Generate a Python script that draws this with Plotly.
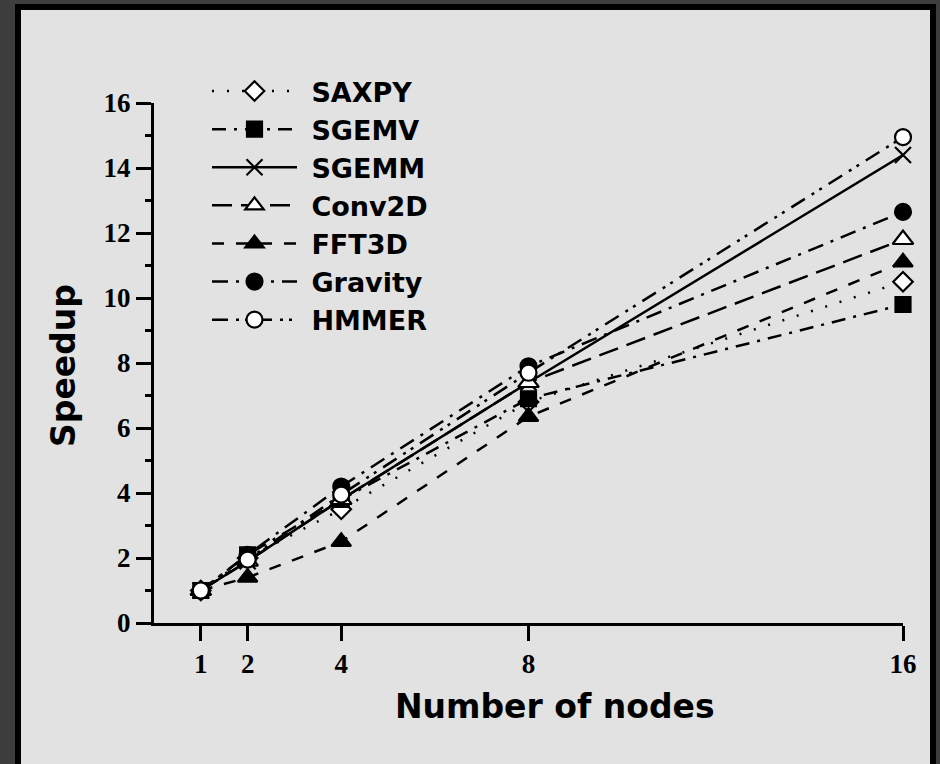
import plotly.graph_objects as go

nodes = [1, 2, 4, 8, 16]
names = ["SAXPY", "SGEMV", "SGEMM", "Conv2D", "FFT3D", "Gravity", "HMMER"]
saxpy = [1.0, 2.0, 3.5, 6.8, 10.5]
sgemv = [1.0, 2.1, 3.8, 6.9, 9.8]
sgemm = [1.0, 1.9, 3.8, 7.4, 14.4]
conv2d = [1.0, 1.9, 3.8, 7.4, 11.8]
fft3d = [1.0, 1.4, 2.5, 6.35, 11.1]
gravity = [1.0, 2.1, 4.2, 7.9, 12.65]
hmmer = [1.0, 1.95, 3.95, 7.7, 14.95]
series = [saxpy, sgemv, sgemm, conv2d, fft3d, gravity, hmmer]

x_ticks = [1, 2, 4, 8, 16]
y_ticks = [0, 2, 4, 6, 8, 10, 12, 14, 16]

styles = [
    dict(dash="2px,13px", symbol="diamond-open", size=15),
    dict(dash="14px,8px,3px,8px", symbol="square", size=15),
    dict(dash="solid", symbol="x-thin-open", size=16),
    dict(dash="20px,9px", symbol="triangle-up-open", size=18),
    dict(dash="12px,12px", symbol="triangle-up", size=17),
    dict(dash="16px,8px,3px,8px", symbol="circle", size=16),
    dict(dash="16px,8px,3px,6px,3px,8px", symbol="circle-open", size=16),
]

fig = go.Figure()
for name, vals, st in zip(names, series, styles):
    open_sym = st["symbol"].endswith("open") and not st["symbol"].startswith("x")
    fig.add_trace(go.Scatter(
        x=nodes, y=vals, name="<b> " + name + "</b>", mode="lines+markers",
        line=dict(color="black", width=2.5, dash=st["dash"]),
        marker=dict(
            symbol=st["symbol"].replace("-open", "") if open_sym else st["symbol"],
            size=st["size"],
            color="white" if open_sym else "black",
            line=dict(color="black", width=2.2),
        ),
        cliponaxis=False,
    ))

W, H = 940, 764
ml, mr, mt, mb = 154, 37, 103, 141
pw, ph = W - ml - mr, H - mt - mb

def px(x):
    return (x - ml) / pw

def py(y):
    return 1 - (y - mt) / ph

fig.add_shape(type="rect", xref="paper", yref="paper",
              x0=px(18), x1=px(933), y0=py(7), y1=py(H + 20),
              line=dict(color="black", width=6), fillcolor="#e2e2e2", layer="below")

tickfont = dict(family="Liberation Serif", size=27, color="black", weight="bold")
fig.update_xaxes(range=[0, 16], tickvals=x_ticks, ticktext=[str(v) for v in x_ticks],
                 showline=True, linecolor="black", linewidth=3, ticks="outside",
                 ticklen=15, tickwidth=2.5, tickcolor="black", showgrid=False,
                 zeroline=False, tickfont=tickfont)
fig.update_yaxes(range=[0, 16], tickvals=y_ticks, ticktext=[str(v) for v in y_ticks],
                 showline=True, linecolor="black", linewidth=3, ticks="outside",
                 ticklen=15, tickwidth=2.5, tickcolor="black", showgrid=False,
                 zeroline=False, tickfont=tickfont,
                 minor=dict(dtick=1, tick0=0, ticks="outside", ticklen=6,
                            tickwidth=2.5, tickcolor="black", showgrid=False))

titlefont = dict(family="DejaVu Sans", size=33, color="black")
fig.add_annotation(text="<b>Number of nodes</b>", xref="paper", yref="paper",
                   x=px(555), y=py(706), showarrow=False, font=titlefont,
                   xanchor="center", yanchor="middle")
fig.add_annotation(text="<b>Speedup</b>", xref="paper", yref="paper",
                   x=px(63), y=py(366), showarrow=False, font=titlefont,
                   textangle=-90, xanchor="center", yanchor="middle")

fig.update_layout(
    width=W, height=H,
    margin=dict(l=ml, r=mr, t=mt, b=mb),
    paper_bgcolor="#3d3d3d", plot_bgcolor="rgba(0,0,0,0)",
    showlegend=True,
    legend=dict(x=px(207), y=py(67), xanchor="left", yanchor="top",
                bgcolor="rgba(0,0,0,0)", itemwidth=85, traceorder="normal",
                font=dict(family="DejaVu Sans", size=27, color="black"),
                tracegroupgap=0),
)

fig.write_html("out.html")
